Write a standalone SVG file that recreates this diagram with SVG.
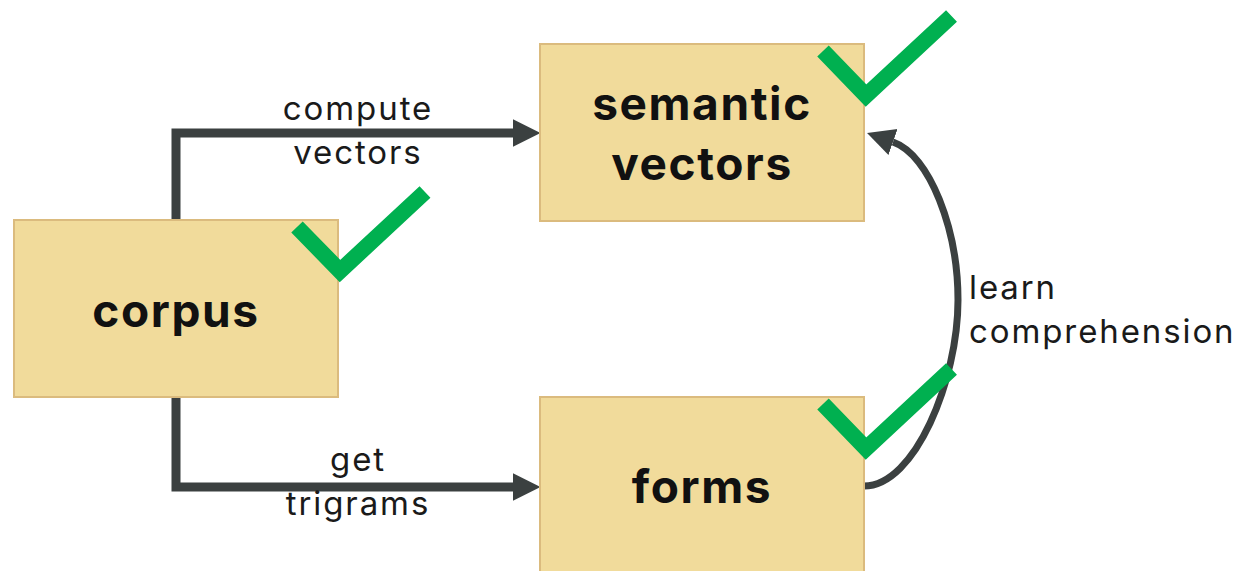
<svg xmlns="http://www.w3.org/2000/svg" width="1238" height="571" viewBox="0 0 1238 571">
<defs>
<style>
.box{fill:#f1db9b;stroke:#dbbb7e;stroke-width:2}
.nl{font-family:Inter,"Liberation Sans",sans-serif;font-weight:700;font-size:46px;letter-spacing:1.6px;fill:#111;text-anchor:middle}
.el{font-family:Inter,"Liberation Sans",sans-serif;font-weight:400;font-size:33px;letter-spacing:1.9px;fill:#1a1a1a}
.conn{fill:none;stroke:#3b4040;stroke-linejoin:miter}
.chk{fill:none;stroke:#00b050;stroke-width:16;stroke-linejoin:miter;stroke-linecap:butt}
</style>
<marker id="ah" markerUnits="userSpaceOnUse" markerWidth="28" markerHeight="28" refX="0" refY="13.7" orient="auto" viewBox="0 0 28 28">
<path d="M0,0 L27.5,13.7 L0,27.4 z" fill="#3b4040"/>
</marker>
</defs>
<g id="connectors">
<path class="conn" stroke-width="9" d="M176 220 V133 H513" marker-end="url(#ah)"/>
<path class="conn" stroke-width="9" d="M176 397 V487 H513" marker-end="url(#ah)"/>
<path class="conn" stroke-width="7" d="M864 486 C915 486 958 380 958 300 C958 230 930 155 893 142" marker-end="url(#ah)"/>
<text class="el" x="358" y="120" text-anchor="middle">compute</text>
<text class="el" x="358" y="164" text-anchor="middle">vectors</text>
<text class="el" x="358" y="471" text-anchor="middle">get</text>
<text class="el" x="358" y="515" text-anchor="middle">trigrams</text>
<text class="el" x="969" y="299">learn</text>
<text class="el" x="969" y="343">comprehension</text>
</g>
<g id="corpus">
<rect class="box" x="14" y="220" width="324" height="177"/>
<text class="nl" x="176" y="327">corpus</text>
<polyline class="chk" points="297,227 340,271 425,192"/>
</g>
<g id="semantic-vectors">
<rect class="box" x="540" y="44" width="324" height="177"/>
<text class="nl" x="702" y="120">semantic</text>
<text class="nl" x="702" y="180">vectors</text>
<polyline class="chk" points="823,51 866,95.5 951.5,16"/>
</g>
<g id="forms">
<rect class="box" x="540" y="397" width="324" height="177"/>
<text class="nl" x="702" y="503">forms</text>
<polyline class="chk" points="823,404 866,448.5 951.5,369"/>
</g>
</svg>
